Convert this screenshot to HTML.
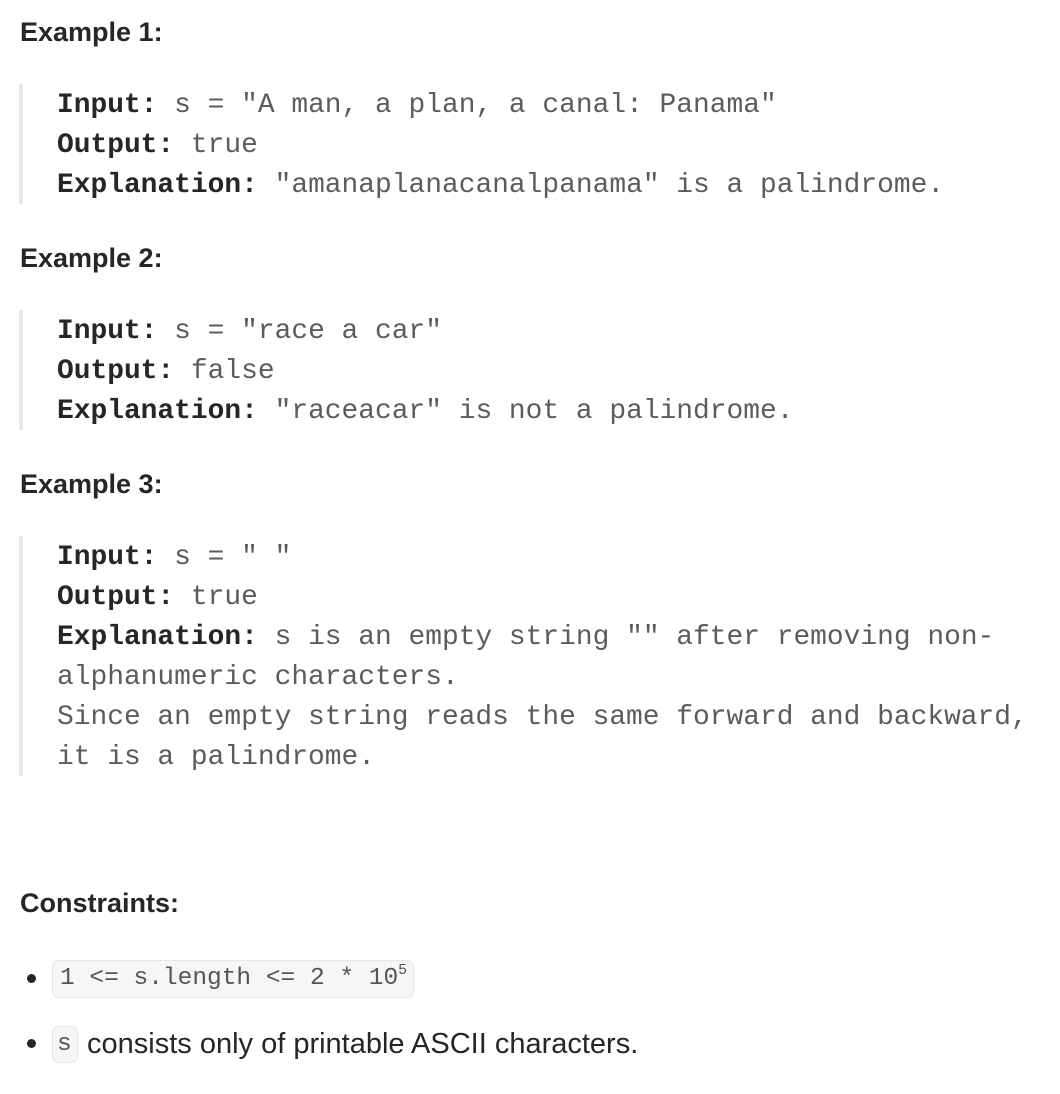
<!DOCTYPE html>
<html><head><meta charset="utf-8"><style>
body{margin:0;width:1060px;height:1094px;background:#fff;position:relative;overflow:hidden;font-family:"Liberation Sans",sans-serif;color:#262626}
.h{position:absolute;left:20px;font-weight:bold;font-size:27px;line-height:40px;margin:0}
.bar{position:absolute;left:19px;width:4px;background:#e8e8e8}
.l{position:absolute;left:57px;font-family:"Liberation Mono",monospace;font-size:27.9px;line-height:40px;white-space:pre;color:#5c5c5c}
.l b{color:#262626;font-weight:bold}
.dot{position:absolute;left:27px;width:9px;height:9px;border-radius:50%;background:#262626}
.pill{position:absolute;background:#f6f6f6;border:1.5px solid #e6e6e6;border-radius:7px;box-sizing:border-box;font-family:"Liberation Mono",monospace;font-size:24.5px;color:#555;line-height:35px;white-space:pre}
.t{position:absolute;font-size:29px;line-height:40px;color:#262626}
</style></head><body>
<div class="h" style="top:12px">Example 1:</div>
<div class="bar" style="top:84px;height:120px"></div>
<div class="l" style="top:86px"><b>Input:</b> s = "A man, a plan, a canal: Panama"</div>
<div class="l" style="top:126px"><b>Output:</b> true</div>
<div class="l" style="top:166px"><b>Explanation:</b> "amanaplanacanalpanama" is a palindrome.</div>

<div class="h" style="top:238px">Example 2:</div>
<div class="bar" style="top:310px;height:120px"></div>
<div class="l" style="top:312px"><b>Input:</b> s = "race a car"</div>
<div class="l" style="top:352px"><b>Output:</b> false</div>
<div class="l" style="top:392px"><b>Explanation:</b> "raceacar" is not a palindrome.</div>

<div class="h" style="top:464px">Example 3:</div>
<div class="bar" style="top:536px;height:240px"></div>
<div class="l" style="top:538px"><b>Input:</b> s = " "</div>
<div class="l" style="top:578px"><b>Output:</b> true</div>
<div class="l" style="top:618px"><b>Explanation:</b> s is an empty string "" after removing non-</div>
<div class="l" style="top:658px">alphanumeric characters.</div>
<div class="l" style="top:698px">Since an empty string reads the same forward and backward,</div>
<div class="l" style="top:738px">it is a palindrome.</div>

<div class="h" style="top:883px">Constraints:</div>
<div class="dot" style="top:974px"></div>
<div class="pill" style="left:52px;top:960px;height:38px;padding:0 6px 0 7px">1 &lt;= s.length &lt;= 2 * 10<sup style="font-size:15px;line-height:0;position:relative;top:-1px">5</sup></div>
<div class="dot" style="top:1039px"></div>
<div class="pill" style="left:52px;top:1026px;width:26px;height:37px;padding-left:4px">s</div>
<div class="t" style="left:87px;top:1024px">consists only of printable ASCII characters.</div>
</body></html>
